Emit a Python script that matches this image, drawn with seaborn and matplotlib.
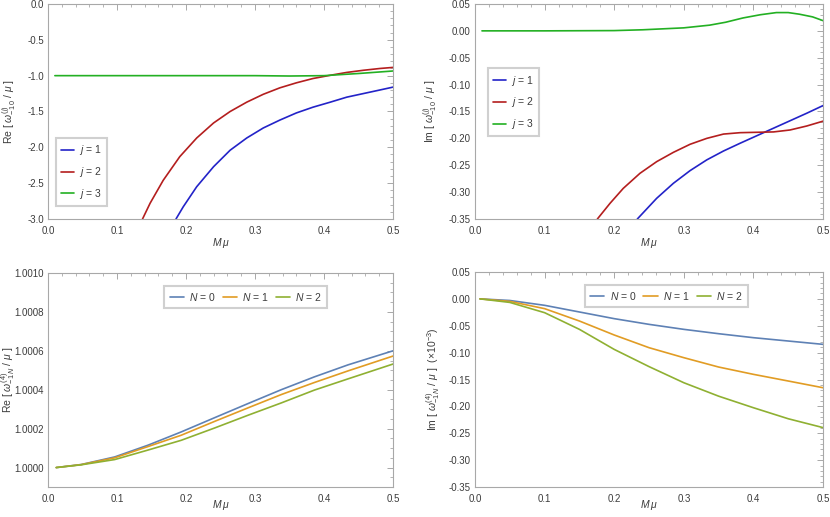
import numpy as np
import pandas as pd
import matplotlib
matplotlib.use("Agg")
import matplotlib.pyplot as plt
from matplotlib.ticker import MultipleLocator, FormatStrFormatter
import seaborn as sns

############### Data ###############
# top-left: Re[omega^(j)_{-10} / mu]
re_j1_x = [0.1855, 0.196, 0.2155, 0.240, 0.264, 0.288, 0.312, 0.336, 0.360, 0.384, 0.409, 0.433, 0.457, 0.481, 0.5]
re_j1_y = [-3.00, -2.83, -2.55, -2.27, -2.04, -1.87, -1.73, -1.62, -1.52, -1.44, -1.37, -1.30, -1.25, -1.20, -1.16]
re_j2_x = [0.137, 0.148, 0.167, 0.191, 0.2155, 0.240, 0.264, 0.288, 0.312, 0.336, 0.360, 0.384, 0.409, 0.433, 0.457, 0.481, 0.5]
re_j2_y = [-3.00, -2.78, -2.46, -2.13, -1.87, -1.66, -1.50, -1.37, -1.26, -1.17, -1.10, -1.04, -0.995, -0.955, -0.925, -0.90, -0.885]
re_j3_x = [0.01, 0.1, 0.2, 0.3, 0.35, 0.4, 0.45, 0.5]
re_j3_y = [-1.00, -1.00, -1.00, -1.00, -1.005, -1.00, -0.97, -0.935]

# top-right: Im[omega^(j)_{-10} / mu]
im_j1_x = [0.2332, 0.261, 0.285, 0.309, 0.333, 0.357, 0.381, 0.405, 0.429, 0.453, 0.477, 0.5]
im_j1_y = [-0.350, -0.3115, -0.2836, -0.260, -0.240, -0.2235, -0.209, -0.195, -0.181, -0.167, -0.153, -0.139]
im_j2_x = [0.1758, 0.194, 0.213, 0.237, 0.261, 0.285, 0.309, 0.333, 0.357, 0.381, 0.405, 0.429, 0.4526, 0.4766, 0.5]
im_j2_y = [-0.350, -0.3208, -0.293, -0.265, -0.2433, -0.226, -0.211, -0.200, -0.192, -0.1894, -0.1887, -0.188, -0.1844, -0.177, -0.168]
im_j3_x = [0.01, 0.1, 0.2, 0.241, 0.3, 0.337, 0.36, 0.385, 0.41, 0.433, 0.45, 0.466, 0.485, 0.5]
im_j3_y = [0.0, 0.0, 0.0005, 0.002, 0.0056, 0.0106, 0.016, 0.024, 0.030, 0.034, 0.034, 0.031, 0.026, 0.019]

# bottom-left: Re[omega^(4)_{-1N} / mu]
n_x = [0.012, 0.048, 0.0966, 0.145, 0.193, 0.242, 0.290, 0.338, 0.386, 0.435, 0.5]
re_n0 = [1.0, 1.0000155, 1.0000545, 1.000115, 1.000183, 1.000257, 1.000329, 1.000400, 1.000466, 1.000528, 1.000600]
re_n1 = [1.0, 1.0000150, 1.0000500, 1.000108, 1.000166, 1.000238, 1.000307, 1.000375, 1.000437, 1.000497, 1.000573]
re_n2 = [1.0, 1.0000140, 1.0000410, 1.000090, 1.000140, 1.000204, 1.000269, 1.000332, 1.000398, 1.000456, 1.000532]

# bottom-right: Im[omega^(4)_{-1N} / mu] (x1e-3)
m_x = [0.0072, 0.05, 0.1, 0.15, 0.2, 0.25, 0.3, 0.35, 0.4, 0.45, 0.5]
im_n0 = [0.0, -0.0030, -0.0120, -0.0244, -0.0368, -0.0474, -0.0567, -0.0648, -0.0722, -0.0784, -0.0846]
im_n1 = [0.0, -0.0047, -0.0182, -0.0412, -0.0672, -0.0908, -0.1094, -0.1268, -0.1404, -0.1528, -0.1653]
im_n2 = [0.0, -0.0066, -0.0257, -0.0567, -0.0940, -0.1260, -0.1560, -0.1810, -0.2025, -0.2230, -0.2395]

j_labels = ["$j$ = 1", "$j$ = 2", "$j$ = 3"]
n_labels = ["$N$ = 0", "$N$ = 1", "$N$ = 2"]
j_colors = ["#2323c8", "#b41e1e", "#23b023"]
n_colors = ["#5e81b5", "#e19c24", "#8fb032"]


def long_df(xs, ys, labels):
    parts = [pd.DataFrame({"x": x, "y": y, "series": lab}) for x, y, lab in zip(xs, ys, labels)]
    return pd.concat(parts, ignore_index=True)


############### Style ###############
sns.set_style("white")
plt.rcParams["font.family"] = ["Liberation Sans", "DejaVu Sans"]
plt.rcParams["mathtext.fontset"] = "custom"
plt.rcParams["mathtext.rm"] = "Liberation Sans"
plt.rcParams["mathtext.it"] = "Liberation Sans:italic"
plt.rcParams["axes.unicode_minus"] = True

frame_col = "#a8a8a8"
text_col = "#3c3c3c"

fig = plt.figure(figsize=(8.3, 5.17), dpi=100)
axes = [
    fig.add_axes([0.0578, 0.5764, 0.4157, 0.4159]),
    fig.add_axes([0.5723, 0.5764, 0.4193, 0.4159]),
    fig.add_axes([0.0578, 0.0580, 0.4157, 0.4140]),
    fig.add_axes([0.5723, 0.0580, 0.4193, 0.4159]),
]


def style_axis(ax, ymaj, ymin, yfmt, ylabel, ylab_x, xlab_y):
    ax.set_xlim(0.0, 0.5)
    ax.xaxis.set_major_locator(MultipleLocator(0.1))
    ax.xaxis.set_minor_locator(MultipleLocator(0.02))
    ax.xaxis.set_major_formatter(FormatStrFormatter("%.1f"))
    ax.yaxis.set_major_locator(MultipleLocator(ymaj))
    ax.yaxis.set_minor_locator(MultipleLocator(ymin))
    ax.yaxis.set_major_formatter(FormatStrFormatter(yfmt))
    ax.tick_params(which="both", direction="in", top=True, right=True,
                   color=frame_col, labelsize=7, labelcolor=text_col)
    ax.tick_params(axis="x", pad=5)
    ax.tick_params(axis="y", pad=3)
    ax.tick_params(which="major", length=4, width=0.7)
    ax.tick_params(which="minor", length=2, width=0.6)
    for sp in ax.spines.values():
        sp.set_color(frame_col)
        sp.set_linewidth(0.8)
    ax.set_xlabel(r"$M\,\mu$", fontsize=7.5, color=text_col, va="center")
    ax.xaxis.set_label_coords(0.5, xlab_y)
    ax.set_ylabel(ylabel, fontsize=7.5, color=text_col, va="center")
    ax.yaxis.set_label_coords(ylab_x, 0.5)


def style_legend(ax, borderpad=0.5, handlelength=1.35, **kw):
    leg = ax.legend(fontsize=7.5, frameon=True, fancybox=False, handlelength=handlelength,
                    handletextpad=0.5, borderpad=borderpad, edgecolor="#d0d0d0",
                    framealpha=1.0, **kw)
    leg.get_frame().set_linewidth(1.5)
    for t in leg.get_texts():
        t.set_color(text_col)
    return leg


# top-left
df = long_df([re_j1_x, re_j2_x, re_j3_x], [re_j1_y, re_j2_y, re_j3_y], j_labels)
ax = axes[0]
sns.lineplot(data=df, x="x", y="y", hue="series", palette=j_colors, sort=False,
             linewidth=1.2, ax=ax, estimator=None)
ax.set_ylim(-3.0, 0.0)
style_axis(ax, 0.5, 0.1, "%.1f", r"Re [ $\omega^{(j)}_{-1\,0}$ / $\mu$ ]", -0.113, -0.112)
style_legend(ax, loc="lower left", labelspacing=0.75, handlelength=1.2,
             bbox_to_anchor=(0.008, 0.035))

# top-right
df = long_df([im_j1_x, im_j2_x, im_j3_x], [im_j1_y, im_j2_y, im_j3_y], j_labels)
ax = axes[1]
sns.lineplot(data=df, x="x", y="y", hue="series", palette=j_colors, sort=False,
             linewidth=1.2, ax=ax, estimator=None)
ax.set_ylim(-0.35, 0.05)
style_axis(ax, 0.05, 0.01, "%.2f", r"Im [ $\omega^{(j)}_{-1\,0}$ / $\mu$ ]", -0.129, -0.112)
style_legend(ax, loc="upper left", labelspacing=0.75, handlelength=1.2,
             bbox_to_anchor=(0.022, 0.725))

# bottom-left
df = long_df([n_x] * 3, [re_n0, re_n1, re_n2], n_labels)
ax = axes[2]
sns.lineplot(data=df, x="x", y="y", hue="series", palette=n_colors, sort=False,
             linewidth=1.2, ax=ax, estimator=None)
ax.set_ylim(0.9999, 1.0010)
style_axis(ax, 0.0002, 0.00005, "%.4f", r"Re [ $\omega^{(4)}_{-1\,N}$ / $\mu$ ]", -0.116, -0.085)
style_legend(ax, loc="upper center", ncol=3, columnspacing=0.7, bbox_to_anchor=(0.573, 0.965))

# bottom-right
df = long_df([m_x] * 3, [im_n0, im_n1, im_n2], n_labels)
ax = axes[3]
sns.lineplot(data=df, x="x", y="y", hue="series", palette=n_colors, sort=False,
             linewidth=1.2, ax=ax, estimator=None)
ax.set_ylim(-0.35, 0.05)
style_axis(ax, 0.05, 0.01, "%.2f",
           r"Im [ $\omega^{(4)}_{-1\,N}$ / $\mu$ ]  ($\times 10^{-3}$)", -0.121, -0.085)
style_legend(ax, loc="upper center", ncol=3, columnspacing=0.7, bbox_to_anchor=(0.55, 0.965))

fig.savefig("out.png", dpi=100)
